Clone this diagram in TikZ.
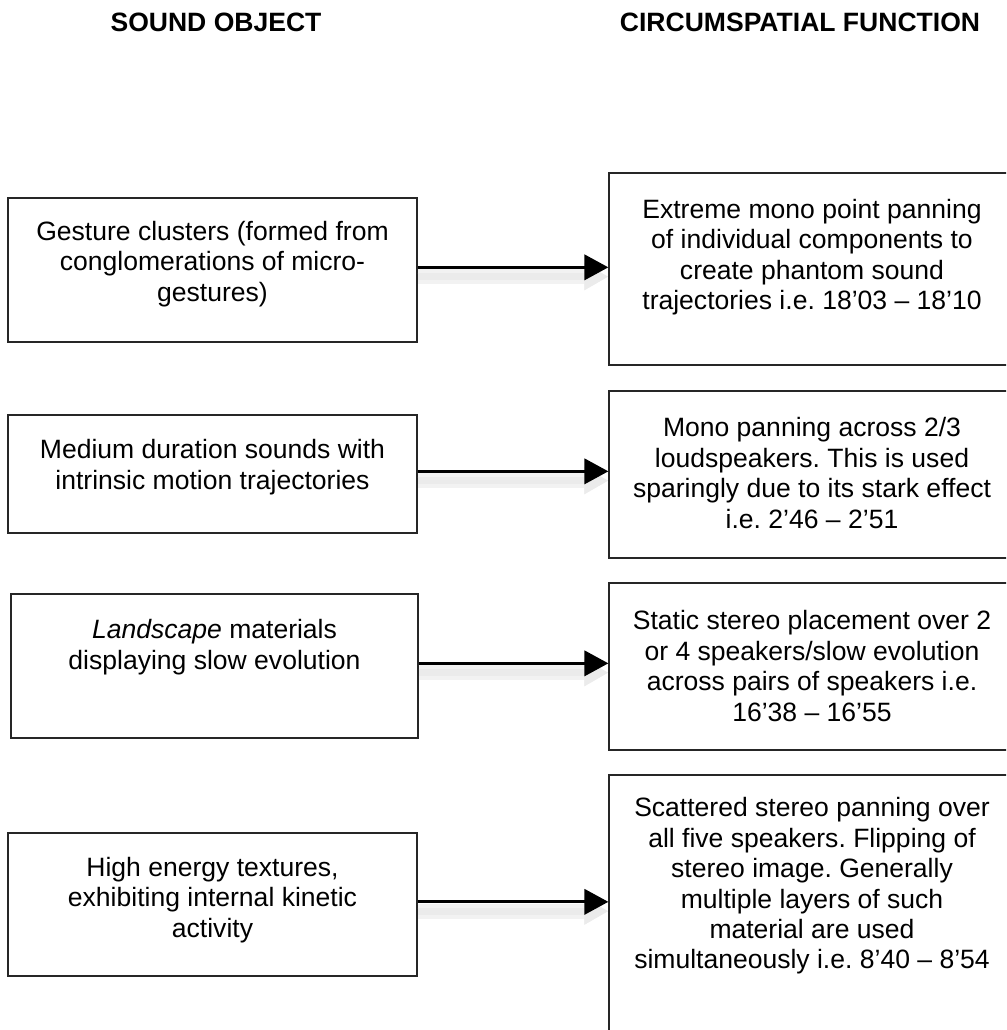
\documentclass[tikz,border=0pt]{standalone}
\usepackage{fontspec}
\setmainfont{Liberation Sans}
\frenchspacing
\usetikzlibrary{arrows.meta,positioning}
\tikzset{
    heading/.style={
    font=\fontsize{19.9}{23.25}\selectfont\bfseries
    },
    sobox/.style={
    rectangle,draw=black!85,line width=1pt,minimum width=306.75pt,inner sep=0pt
    },
    fnbox/.style={
    rectangle,draw=black!85,line width=1pt,minimum width=304.5pt,inner sep=0pt
    },
    boxtext/.style={
    align=center,inner sep=0pt,font=\fontsize{19.9}{22.8}\selectfont
    },
    link/.style={
    line width=2.2pt,-{Triangle[length=18pt,width=19pt]},
    preaction={draw=black!5,line width=11pt,transform canvas={yshift=-7pt}},
    preaction={draw=black!8,line width=5pt,transform canvas={yshift=-7pt}}
    },
}
\begin{document}
\begin{tikzpicture}[x=0.75pt,y=-0.75pt]
   \useasboundingbox (0,0) rectangle (1006,1030);
   \clip (0,0) rectangle (1006,1030);
   % column headings
   \node[heading] (hs) at (216,22.5) {SOUND OBJECT};
   \node[heading] (hf) at (800,22.5) {CIRCUMSPATIAL FUNCTION};

   % sound object boxes
   \node[sobox,minimum height=108pt] (S1) at (212.5,270) {};
   \node[sobox,minimum height=88.5pt] (S2) at (212.5,474) {};
   \node[sobox,minimum height=108pt,minimum width=305.25pt] (S3) at (214.5,666) {};
   \node[sobox,minimum height=107.25pt] (S4) at (212.5,904.5) {};
   \node[boxtext] (s1) at (212.5,264) {Gesture clusters (formed from\\conglomerations of micro-\\gestures)};
   \node[boxtext] (s2) at (212.5,467) {Medium duration sounds with\\intrinsic motion trajectories};
   \node[boxtext] (s3) at (214.5,647) {\textit{Landscape} materials\\displaying slow evolution};
   \node[boxtext] (s4) at (212.5,900) {High energy textures,\\exhibiting internal kinetic\\activity};

   % circumspatial function boxes
   \node[fnbox,minimum height=144pt] (F1) at (812,269) {};
   \node[fnbox,minimum height=125.25pt] (F2) at (812,474.5) {};
   \node[fnbox,minimum height=125.25pt] (F3) at (812,666.5) {};
   \node[fnbox,minimum height=202.5pt] (F4) at (812,910) {};
   \node[boxtext] (f1) at (812,257) {Extreme mono point panning\\of individual components to\\create phantom sound\\trajectories i.e. 18’03 – 18’10};
   \node[boxtext] (f2) at (812,473) {Mono panning across 2/3\\loudspeakers. This is used\\sparingly due to its stark effect\\i.e. 2’46 – 2’51};
   \node[boxtext] (f3) at (812,666) {Static stereo placement over 2\\or 4 speakers/slow evolution\\across pairs of speakers i.e.\\16’38 – 16’55};
   \node[boxtext] (f4) at (812,886) {Scattered stereo panning over\\all five speakers. Flipping of\\stereo image. Generally\\multiple layers of such\\material are used\\simultaneously i.e. 8’40 – 8’54};

   % arrows
   \draw[link] ([yshift=2pt]S1.east) -- ([yshift=2pt]S1.east -| F1.west);
   \draw[link] ([yshift=2pt]S2.east) -- ([yshift=2pt]S2.east -| F2.west);
   \draw[link] ([yshift=2pt]S3.east) -- ([yshift=2pt]S3.east -| F3.west);
   \draw[link] ([yshift=2pt]S4.east) -- ([yshift=2pt]S4.east -| F4.west);
\end{tikzpicture}
\end{document}
